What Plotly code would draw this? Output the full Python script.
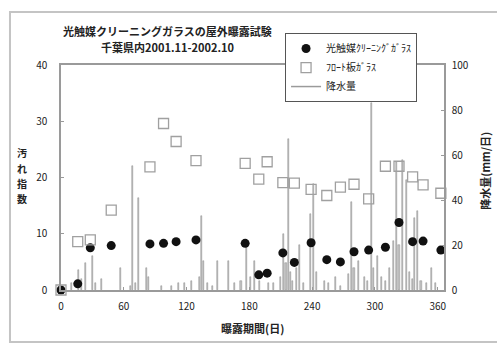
import plotly.graph_objects as go

# ---- data ----
exposure_days = [0, 16, 28, 48, 85, 98, 110, 129, 176, 189, 197, 212, 223, 239,
                 254, 267, 280, 294, 310, 323, 336, 346, 363]
photocat_glass = [0, 1.1, 7.5, 7.9, 8.2, 8.3, 8.6, 8.9, 8.3, 2.7, 3.0, 6.6, 4.9, 8.4,
                  5.4, 5.0, 6.8, 7.1, 7.6, 12.0, 8.6, 8.7, 7.1]
float_glass = [0, 8.6, 8.9, 14.2, 21.9, 29.6, 26.4, 23.0, 22.5, 19.7, 22.8, 19.1, 19.0, 17.9,
               16.8, 18.3, 18.8, 16.2, 22.0, 22.0, 20.1, 18.7, 17.2]

rain_days = [10, 17, 20, 23, 30, 33, 39, 57, 66, 68, 71, 74, 82, 84, 96, 106, 112, 118,
             125, 132, 134, 136, 140, 145, 150, 160, 166, 172, 177, 181, 185, 190, 198,
             203, 210, 213, 215, 217, 219, 221, 225, 228, 232, 238, 241, 244, 252, 256,
             262, 267, 275, 278, 280, 284, 290, 293, 297, 299, 302, 306, 310, 314, 318,
             321, 323, 326, 330, 333, 336, 338, 341, 344, 349, 354, 358]
rain_mm = [3, 9, 5, 12, 15, 3, 5, 10, 2, 55, 3, 41, 10, 6, 2, 2, 3, 3,
           4, 6, 33, 13, 3, 2, 13, 13, 3, 4, 19, 6, 13, 4, 3,
           3, 6, 25, 12, 67, 8, 4, 10, 20, 3, 34, 47, 8, 4, 3,
           6, 2, 7, 39, 10, 13, 6, 4, 83, 10, 15, 6, 4, 10, 22,
           57, 20, 58, 49, 8, 5, 32, 35, 4, 3, 10, 3]

x_ticks = [0, 60, 120, 180, 240, 300, 360]
left_ticks = [0, 10, 20, 30, 40]
right_ticks = [0, 20, 40, 60, 80, 100]
left_title_chars = ["汚", "れ", "指", "数"]

FONT = "Noto Sans CJK JP"
AXIS_GRAY = "#9a9a9a"

fig = go.Figure()

# precipitation bars on base y axis (right side), so markers (y2) draw above them
fig.add_trace(go.Bar(
    x=rain_days, y=rain_mm, yaxis="y", name="降水量",
    width=1.0, marker=dict(color="#c4c4c4", line=dict(color="#8a8a8a", width=0.5)),
    showlegend=False,
))
# legend-only entry for the precipitation (line symbol)
fig.add_trace(go.Scatter(
    x=[None], y=[None], mode="lines", name="降水量", yaxis="y",
    line=dict(color="#9a9a9a", width=1.5), legendrank=3,
))
fig.add_trace(go.Scatter(
    x=exposure_days, y=photocat_glass, mode="markers", name="光触媒ｸﾘｰﾆﾝｸﾞｶﾞﾗｽ",
    yaxis="y2", marker=dict(symbol="circle", size=9, color="#111111"),
    cliponaxis=False, legendrank=1,
))
fig.add_trace(go.Scatter(
    x=exposure_days, y=float_glass, mode="markers", name="ﾌﾛｰﾄ板ｶﾞﾗｽ",
    yaxis="y2", marker=dict(symbol="square-open", size=10, color="#a0a0a0", line=dict(width=1.3)),
    cliponaxis=False, legendrank=2,
))

annotations = [
    dict(text="<b>光触媒クリーニングガラスの屋外曝露試験</b>", xref="paper", yref="paper",
         x=0.279, y=1.152, xanchor="center", yanchor="middle",
         showarrow=False, font=dict(size=11)),
    dict(text="<b>千葉県内2001.11-2002.10</b>", xref="paper", yref="paper",
         x=0.279, y=1.081, xanchor="center", yanchor="middle",
         showarrow=False, font=dict(size=11)),
    dict(text="<b>曝露期間(日)</b>", xref="paper", yref="paper",
         x=0.5, y=-0.168, xanchor="center", yanchor="middle",
         showarrow=False, font=dict(size=11)),
    dict(text="<b>降水量(mm/日)</b>", xref="paper", yref="paper",
         x=1.107, y=0.53, xanchor="center", yanchor="middle",
         showarrow=False, textangle=-90, font=dict(size=11)),
]
# stacked (upright) left axis title, one character per line
for i, ch in enumerate(left_title_chars):
    annotations.append(dict(
        text="<b>" + ch + "</b>", xref="paper", yref="paper",
        x=-0.102, y=0.609 - i * 0.068, xanchor="center", yanchor="middle",
        showarrow=False, font=dict(size=10), borderpad=0,
    ))

fig.update_layout(
    width=497, height=345,
    margin=dict(l=61, r=53, t=65, b=55, autoexpand=False),
    paper_bgcolor="white", plot_bgcolor="white",
    font=dict(family=FONT, size=10, color="#222222"),
    bargap=0,
    showlegend=True,
    legend=dict(
        x=0.585, y=1.142, xanchor="left", yanchor="top",
        bgcolor="white", bordercolor="#555555", borderwidth=1,
        font=dict(size=10, family=FONT),
    ),
    xaxis=dict(
        range=[0, 366], tickvals=x_ticks, ticktext=[str(v) for v in x_ticks],
        showgrid=False, zeroline=False, showline=True, linecolor=AXIS_GRAY, linewidth=1.5,
        mirror=True, ticks="inside", ticklen=3, tickcolor=AXIS_GRAY,
        tickfont=dict(size=10), ticklabelstandoff=6,
    ),
    yaxis=dict(
        range=[0, 100], tickvals=right_ticks, side="right",
        showgrid=False, zeroline=False, showline=True, linecolor=AXIS_GRAY, linewidth=1.5,
        ticks="inside", ticklen=3, tickcolor=AXIS_GRAY, tickfont=dict(size=10),
        ticklabelstandoff=4,
    ),
    yaxis2=dict(
        range=[0, 40], tickvals=left_ticks, overlaying="y", side="left",
        showgrid=False, zeroline=False, showline=True, linecolor=AXIS_GRAY, linewidth=1.5,
        ticks="inside", ticklen=3, tickcolor=AXIS_GRAY, tickfont=dict(size=10),
        ticklabelstandoff=10,
    ),
    shapes=[dict(
        type="rect", xref="paper", yref="paper",
        x0=-0.1332, x1=1.25, y0=-0.2311, y1=1.2356,
        line=dict(color="#c4c4c4", width=2), layer="above",
    )],
    annotations=annotations,
)

fig.write_html("out.html", config={"displayModeBar": False},
               post_script="document.body.style.margin='0';")
